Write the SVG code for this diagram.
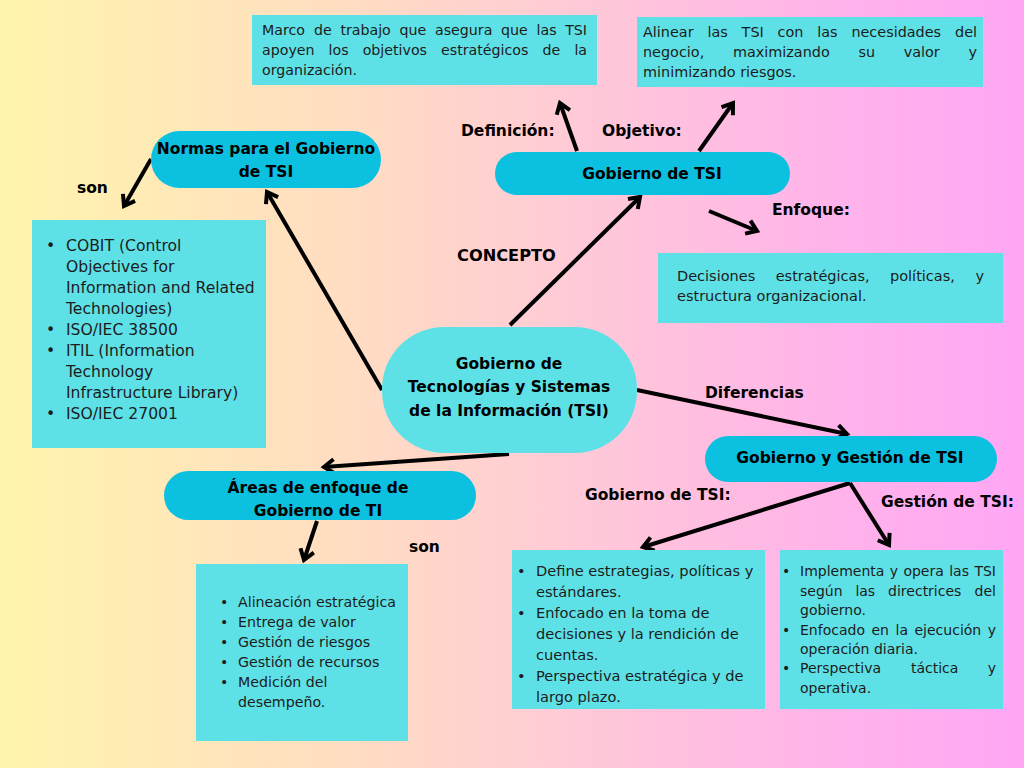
<svg xmlns="http://www.w3.org/2000/svg" width="1024" height="768" viewBox="0 0 1024 768">
<defs>
<linearGradient id="bg" x1="0" y1="0" x2="1" y2="0">
<stop offset="0" stop-color="#fff5ad"/>
<stop offset="0.35" stop-color="#ffdcc3"/>
<stop offset="0.55" stop-color="#ffcbd6"/>
<stop offset="0.8" stop-color="#ffb4e9"/>
<stop offset="1" stop-color="#ffa6f5"/>
</linearGradient>
<marker id="arr" markerUnits="userSpaceOnUse" viewBox="-14 -10 18 20" markerWidth="18" markerHeight="20" refX="0" refY="0" orient="auto" overflow="visible">
<path d="M-10,-7 L0,0 L-10,7" fill="none" stroke="#000" stroke-width="4" stroke-linejoin="miter"/>
</marker>
</defs>
<style>
.box{fill:#5ee1e6}
.node{fill:#0cc0df}
.cnode{fill:#5ee1e6}
.b{font-family:"DejaVu Sans","Liberation Sans",sans-serif;font-weight:bold;font-size:15.5px;fill:#000}
.t{font-family:"DejaVu Sans","Liberation Sans",sans-serif;font-size:14.5px;fill:#1c1c1c}
.c{text-anchor:middle}
.conn line{stroke:#000;stroke-width:4;marker-end:url(#arr)}
</style>
<rect width="1024" height="768" fill="url(#bg)"/>

<g id="connectors" class="conn">
<line x1="577" y1="151" x2="560" y2="103"/>
<line x1="699" y1="151" x2="733" y2="103"/>
<line x1="510" y1="325" x2="640" y2="197"/>
<line x1="709" y1="211" x2="757" y2="231"/>
<line x1="382" y1="390" x2="267" y2="192"/>
<line x1="151" y1="159" x2="124" y2="206"/>
<line x1="509" y1="454" x2="324" y2="467"/>
<line x1="317" y1="521" x2="304" y2="560"/>
<line x1="637" y1="390" x2="847" y2="434"/>
<line x1="850" y1="483" x2="643" y2="547"/>
<line x1="850" y1="483" x2="889" y2="545"/>
</g>

<g id="labels">
<text class="b" x="461" y="136">Definición:</text>
<text class="b" x="602" y="136">Objetivo:</text>
<text class="b" x="772" y="215">Enfoque:</text>
<text class="b" x="457" y="261" style="font-size:16.2px">CONCEPTO</text>
<text class="b" x="77" y="193">son</text>
<text class="b" x="409" y="552">son</text>
<text class="b" x="705" y="398">Diferencias</text>
<text class="b" x="585" y="500">Gobierno de TSI:</text>
<text class="b" x="881" y="507">Gestión de TSI:</text>
</g>

<g id="definicion">
<rect class="box" x="252" y="15" width="345" height="70"/>
<g class="t" style="font-size:14.2px">
<text y="35"><tspan x="262">Marco</tspan><tspan x="314">de</tspan><tspan x="340.4">trabajo</tspan><tspan x="399.5">que</tspan><tspan x="435">asegura</tspan><tspan x="501">que</tspan><tspan x="536.5">las</tspan><tspan x="565.2">TSI</tspan></text>
<text y="55"><tspan x="262">apoyen</tspan><tspan x="328.6">los</tspan><tspan x="362.7">objetivos</tspan><tspan x="441.1">estratégicos</tspan><tspan x="542.6">de</tspan><tspan x="574.4">la</tspan></text>
<text x="262" y="75">organización.</text>
</g>
</g>

<g id="objetivo">
<rect class="box" x="637" y="17" width="346" height="70"/>
<g class="t" style="font-size:14.4px">
<text y="37"><tspan x="643">Alinear</tspan><tspan x="707.4">las</tspan><tspan x="741.6">TSI</tspan><tspan x="777.6">con</tspan><tspan x="817.3">las</tspan><tspan x="851.4">necesidades</tspan><tspan x="955">del</tspan></text>
<text y="57"><tspan x="643">negocio,</tspan><tspan x="732.9">maximizando</tspan><tspan x="858.5">su</tspan><tspan x="903.7">valor</tspan><tspan x="968.5">y</tspan></text>
<text x="643" y="77">minimizando riesgos.</text>
</g>
</g>

<g id="gobierno-tsi">
<rect class="node" x="495" y="152" width="295" height="43" rx="21.5"/>
<text class="b c" x="652" y="179">Gobierno de TSI</text>
</g>

<g id="enfoque">
<rect class="box" x="658" y="253" width="345" height="70"/>
<g class="t" style="font-size:14.5px">
<text y="281"><tspan x="677">Decisiones</tspan><tspan x="775.7">estratégicas,</tspan><tspan x="890">políticas,</tspan><tspan x="975.4">y</tspan></text>
<text x="677" y="301">estructura organizacional.</text>
</g>
</g>

<g id="normas">
<rect class="node" x="151" y="131" width="230" height="57" rx="28.5"/>
<text class="b c" x="266" y="154">Normas para el Gobierno</text>
<text class="b c" x="266" y="177">de TSI</text>
</g>

<g id="normas-lista">
<rect class="box" x="32" y="220" width="234" height="228"/>
<g class="t" style="font-size:15.6px">
<text x="46" y="251">•</text>
<text x="66" y="251">COBIT (Control</text>
<text x="66" y="272">Objectives for</text>
<text x="66" y="293">Information and Related</text>
<text x="66" y="314">Technologies)</text>
<text x="46" y="335">•</text>
<text x="66" y="335">ISO/IEC 38500</text>
<text x="46" y="356">•</text>
<text x="66" y="356">ITIL (Information</text>
<text x="66" y="377">Technology</text>
<text x="66" y="398">Infrastructure Library)</text>
<text x="46" y="419">•</text>
<text x="66" y="419">ISO/IEC 27001</text>
</g>
</g>

<g id="centro">
<rect class="cnode" x="382" y="327" width="255" height="126" rx="62" ry="62"/>
<text class="b c" x="509" y="369">Gobierno de</text>
<text class="b c" x="509" y="392">Tecnologías y Sistemas</text>
<text class="b c" x="509" y="416">de la Información (TSI)</text>
</g>

<g id="areas">
<rect class="node" x="164" y="471" width="312" height="49" rx="24.5"/>
<text class="b c" x="318" y="493">Áreas de enfoque de</text>
<text class="b c" x="318" y="516">Gobierno de TI</text>
</g>

<g id="areas-lista">
<rect class="box" x="196" y="564" width="212" height="177"/>
<g class="t" style="font-size:14.2px">
<text x="220" y="607">•</text><text x="238" y="607">Alineación estratégica</text>
<text x="220" y="627">•</text><text x="238" y="627">Entrega de valor</text>
<text x="220" y="647">•</text><text x="238" y="647">Gestión de riesgos</text>
<text x="220" y="667">•</text><text x="238" y="667">Gestión de recursos</text>
<text x="220" y="687">•</text><text x="238" y="687">Medición del</text>
<text x="238" y="707">desempeño.</text>
</g>
</g>

<g id="gobierno-gestion">
<rect class="node" x="705" y="436" width="292" height="46" rx="23"/>
<text class="b c" x="850" y="463">Gobierno y Gestión de TSI</text>
</g>

<g id="gobierno-lista">
<rect class="box" x="512" y="550" width="253" height="159"/>
<g class="t" style="font-size:14.6px">
<text x="517" y="576">•</text><text x="536" y="576">Define estrategias, políticas y</text>
<text x="536" y="597">estándares.</text>
<text x="517" y="618">•</text><text x="536" y="618">Enfocado en la toma de</text>
<text x="536" y="639">decisiones y la rendición de</text>
<text x="536" y="660">cuentas.</text>
<text x="517" y="681">•</text><text x="536" y="681">Perspectiva estratégica y de</text>
<text x="536" y="702">largo plazo.</text>
</g>
</g>

<g id="gestion-lista">
<rect class="box" x="780" y="550" width="223" height="159"/>
<g class="t" style="font-size:14px">
<text x="782" y="576">•</text><text y="576"><tspan x="800">Implementa</tspan><tspan x="889.7">y</tspan><tspan x="903.4">opera</tspan><tspan x="949.2">las</tspan><tspan x="974.4">TSI</tspan></text>
<text y="596"><tspan x="800">según</tspan><tspan x="855.4">las</tspan><tspan x="888.1">directrices</tspan><tspan x="974.6">del</tspan></text>
<text x="800" y="615">gobierno.</text>
<text x="782" y="635">•</text><text y="635"><tspan x="800">Enfocado</tspan><tspan x="871.5">en</tspan><tspan x="895.5">la</tspan><tspan x="914.5">ejecución</tspan><tspan x="987.7">y</tspan></text>
<text x="800" y="654">operación diaria.</text>
<text x="782" y="673">•</text><text y="673"><tspan x="800">Perspectiva</tspan><tspan x="910.9">táctica</tspan><tspan x="987.8">y</tspan></text>
<text x="800" y="693">operativa.</text>
</g>
</g>
</svg>
